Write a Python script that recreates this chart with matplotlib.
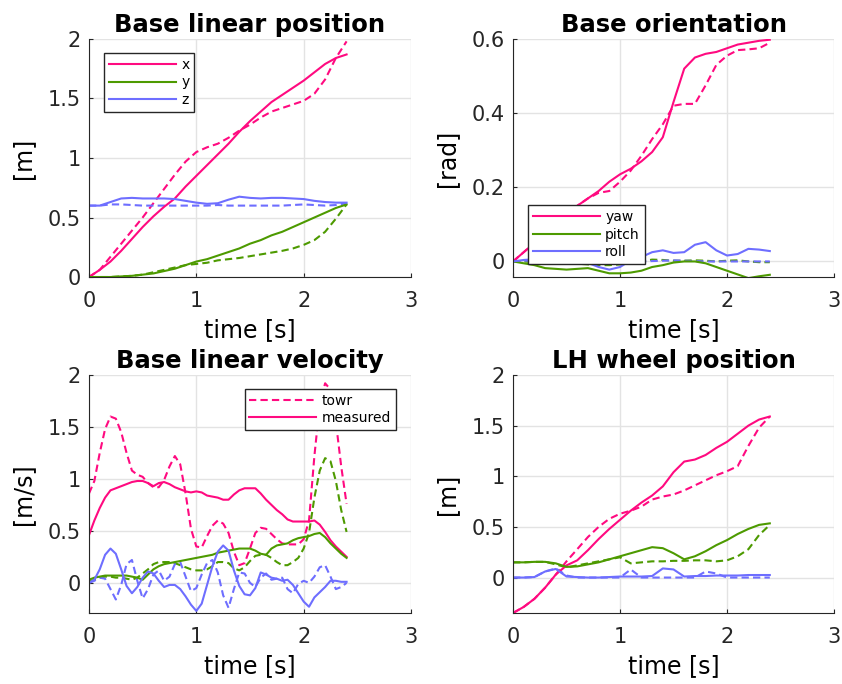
import numpy as np
from matplotlib import pyplot as plt

# colours used for x / y / z (and yaw / pitch / roll)
PINK = '#ff0a80'
GREEN = '#4d9a00'
BLUE = '#6e6eff'

# ---- base linear position [m], sampled every 0.1 s ----
t_pos = np.round(np.arange(0, 2.41, 0.1), 2)
pos_x_meas = [0, 0.06, 0.13, 0.22, 0.32, 0.42, 0.51, 0.59, 0.66, 0.76, 0.85, 0.94, 1.03,
              1.12, 1.22, 1.31, 1.39, 1.47, 1.53, 1.59, 1.65, 1.72, 1.79, 1.84, 1.87]
pos_x_towr = [0, 0.06, 0.17, 0.28, 0.39, 0.50, 0.62, 0.74, 0.86, 0.97, 1.05, 1.09, 1.12,
              1.17, 1.23, 1.28, 1.34, 1.39, 1.42, 1.45, 1.48, 1.54, 1.66, 1.84, 1.98]
pos_y_meas = [0, 0, 0, 0.005, 0.01, 0.02, 0.03, 0.05, 0.07, 0.10, 0.13, 0.15, 0.18,
              0.21, 0.24, 0.28, 0.31, 0.35, 0.38, 0.42, 0.46, 0.50, 0.54, 0.58, 0.61]
pos_y_towr = [0, 0, 0, 0.005, 0.01, 0.02, 0.04, 0.06, 0.08, 0.10, 0.11, 0.12, 0.14,
              0.15, 0.16, 0.175, 0.19, 0.205, 0.22, 0.24, 0.27, 0.31, 0.38, 0.49, 0.61]
pos_z_meas = [0.60, 0.60, 0.63, 0.66, 0.665, 0.66, 0.66, 0.66, 0.655, 0.64, 0.625, 0.615, 0.62,
              0.65, 0.675, 0.665, 0.66, 0.665, 0.665, 0.66, 0.655, 0.64, 0.63, 0.625, 0.625]
pos_z_towr = [0.60, 0.60, 0.61, 0.61, 0.605, 0.60, 0.60, 0.60, 0.60, 0.60, 0.60, 0.60, 0.605,
              0.60, 0.60, 0.60, 0.60, 0.60, 0.60, 0.605, 0.61, 0.605, 0.60, 0.605, 0.62]

# ---- base orientation [rad] ----
t_ori = t_pos
yaw_meas = [0, 0.025, 0.05, 0.075, 0.10, 0.125, 0.15, 0.17, 0.19, 0.215, 0.235, 0.25, 0.27,
            0.295, 0.335, 0.43, 0.52, 0.55, 0.56, 0.565, 0.575, 0.585, 0.59, 0.595, 0.598]
yaw_towr = [0, 0.025, 0.05, 0.075, 0.10, 0.125, 0.15, 0.17, 0.185, 0.19, 0.215, 0.245, 0.285,
            0.33, 0.37, 0.42, 0.425, 0.425, 0.475, 0.53, 0.555, 0.57, 0.572, 0.575, 0.59]
pitch_meas = [0, -0.005, -0.01, -0.018, -0.02, -0.022, -0.02, -0.018, -0.025, -0.032, -0.032,
              -0.03, -0.025, -0.015, -0.01, -0.003, 0.0, 0.0, -0.005, -0.015, -0.025, -0.035,
              -0.045, -0.04, -0.036]
pitch_towr = [0, 0, -0.002, -0.004, -0.005, -0.006, -0.006, -0.008, -0.01, -0.01, -0.008,
              -0.004, 0.0, 0.005, 0.004, 0.002, 0.002, 0.003, 0.002, 0.0, 0.002, 0.003, 0.0,
              -0.002, -0.002]
roll_meas = [0, 0.004, 0.006, 0.005, 0.003, 0.0, 0.0, -0.004, -0.015, -0.022, -0.015, 0.003,
             0.012, 0.025, 0.03, 0.023, 0.025, 0.045, 0.052, 0.03, 0.016, 0.02, 0.034, 0.032, 0.028]
roll_towr = [0, 0.002, 0.002, 0, 0, 0, 0, 0, 0, 0, 0, 0, 0, 0.001, 0.002, 0.003, 0.002,
             0.001, 0, 0, 0, 0, 0, 0, 0]

# ---- base linear velocity [m/s], sampled every 0.05 s ----
t_vel = np.round(np.arange(0, 2.41, 0.05), 2)
vel_x_towr = [0.86, 0.98, 1.25, 1.48, 1.60, 1.58, 1.45, 1.25, 1.08, 1.04, 1.02, 0.96, 0.92,
              0.92, 0.99, 1.12, 1.22, 1.14, 0.86, 0.52, 0.35, 0.34, 0.45, 0.55, 0.60, 0.57,
              0.48, 0.30, 0.17, 0.19, 0.33, 0.48, 0.53, 0.52, 0.47, 0.42, 0.38, 0.37, 0.37,
              0.37, 0.42, 0.60, 1.22, 1.72, 1.92, 1.86, 1.55, 1.12, 0.76]
vel_x_meas = [0.46, 0.60, 0.72, 0.82, 0.89, 0.91, 0.93, 0.95, 0.97, 0.98, 0.98, 0.96, 0.93,
              0.96, 0.97, 0.95, 0.92, 0.90, 0.88, 0.87, 0.88, 0.87, 0.84, 0.83, 0.82, 0.80,
              0.80, 0.85, 0.89, 0.91, 0.91, 0.91, 0.86, 0.80, 0.75, 0.70, 0.66, 0.61, 0.59,
              0.59, 0.59, 0.59, 0.60, 0.56, 0.49, 0.41, 0.35, 0.30, 0.25]
vel_y_towr = [0.01, 0.03, 0.05, 0.06, 0.06, 0.05, 0.05, 0.04, 0.03, 0.05, 0.09, 0.13, 0.18,
              0.20, 0.20, 0.20, 0.19, 0.17, 0.15, 0.13, 0.12, 0.12, 0.13, 0.16, 0.20, 0.20,
              0.19, 0.14, 0.12, 0.15, 0.21, 0.26, 0.27, 0.27, 0.24, 0.20, 0.17, 0.17, 0.20,
              0.24, 0.33, 0.48, 0.82, 1.08, 1.20, 1.17, 0.98, 0.70, 0.49]
vel_y_meas = [0.03, 0.05, 0.06, 0.07, 0.07, 0.07, 0.07, 0.07, 0.06, 0.05, 0.03, 0.08, 0.13,
              0.16, 0.18, 0.19, 0.20, 0.21, 0.22, 0.23, 0.24, 0.25, 0.26, 0.27, 0.29, 0.30,
              0.31, 0.32, 0.33, 0.33, 0.33, 0.31, 0.28, 0.27, 0.33, 0.36, 0.37, 0.38, 0.41,
              0.43, 0.44, 0.45, 0.47, 0.48, 0.44, 0.38, 0.33, 0.28, 0.24]
vel_z_towr = [0.00, 0.02, 0.05, 0.04, -0.06, -0.16, -0.02, 0.18, 0.22, 0.02, -0.15, -0.06,
              0.08, 0.12, 0.02, 0.06, 0.18, 0.20, 0.06, -0.08, -0.05, 0.08, 0.19, 0.22, 0.10,
              -0.12, -0.24, -0.06, 0.10, 0.09, 0.00, -0.04, 0.05, 0.09, 0.03, 0.04, 0.05,
              -0.06, -0.10, -0.01, 0.02, 0.00, 0.06, 0.15, 0.17, 0.06, -0.06, -0.04, 0.00]
vel_z_meas = [0.00, 0.03, 0.13, 0.27, 0.33, 0.28, 0.13, -0.03, -0.10, -0.04, 0.05, 0.11,
              0.09, 0.02, -0.04, -0.02, -0.02, -0.06, -0.13, -0.21, -0.27, -0.20, -0.02, 0.16,
              0.30, 0.36, 0.31, 0.12, -0.03, -0.11, -0.12, -0.05, 0.10, 0.08, 0.05, 0.04,
              0.02, 0.03, -0.02, -0.10, -0.18, -0.23, -0.14, -0.09, -0.04, 0.02, 0.02, 0.01, 0.01]

# ---- LH wheel position [m], sampled every 0.1 s ----
t_whl = t_pos
whl_x_meas = [-0.35, -0.29, -0.21, -0.10, 0.03, 0.12, 0.17, 0.27, 0.38, 0.48, 0.57, 0.66, 0.74,
              0.81, 0.90, 1.04, 1.145, 1.165, 1.21, 1.28, 1.34, 1.42, 1.50, 1.56, 1.59]
whl_x_towr = [-0.35, -0.29, -0.21, -0.10, 0.03, 0.16, 0.28, 0.40, 0.50, 0.58, 0.63, 0.66, 0.70,
              0.77, 0.80, 0.82, 0.86, 0.91, 0.96, 1.01, 1.05, 1.10, 1.30, 1.48, 1.59]
whl_y_meas = [0.15, 0.15, 0.155, 0.155, 0.14, 0.105, 0.11, 0.13, 0.15, 0.18, 0.21, 0.24, 0.27,
              0.30, 0.29, 0.24, 0.18, 0.21, 0.26, 0.32, 0.37, 0.43, 0.48, 0.52, 0.535]
whl_y_towr = [0.15, 0.15, 0.155, 0.155, 0.13, 0.10, 0.12, 0.14, 0.16, 0.18, 0.20, 0.14, 0.15,
              0.16, 0.16, 0.165, 0.165, 0.17, 0.17, 0.16, 0.17, 0.21, 0.28, 0.42, 0.52]
whl_z_meas = [0, 0, 0.005, 0.06, 0.085, 0.01, 0.005, 0, 0, 0.005, 0.01, 0.01, 0.01,
              0.015, 0.09, 0.08, 0.01, 0.015, 0.015, 0.02, 0.02, 0.02, 0.025, 0.025, 0.025]
whl_z_towr = [0, 0, 0.005, 0.06, 0.09, 0.02, 0, 0, 0, 0, 0, 0.08, 0, 0, 0, 0, 0, 0,
              0.06, 0.04, 0, 0, 0, 0, 0]

DASH = (0, (3.5, 2))
LW = 1.5

plt.rcParams['font.family'] = 'DejaVu Sans'
plt.rcParams['axes.edgecolor'] = '#262626'
plt.rcParams['xtick.color'] = '#262626'
plt.rcParams['ytick.color'] = '#262626'

fig = plt.figure(figsize=(8.42, 6.84), dpi=100)


def style_axes(ax, title, ylabel, ylim, yticks):
    ax.set_xlim(0, 3)
    ax.set_ylim(*ylim)
    ax.set_xticks([0, 1, 2, 3])
    ax.set_yticks(yticks)
    ax.set_yticklabels(['%g' % v for v in yticks])
    ax.grid(True, color='#e3e3e3', linewidth=1)
    ax.set_axisbelow(True)
    for side in ['top', 'right']:
        ax.spines[side].set_visible(False)
    ax.tick_params(direction='in', length=3, labelsize=15)
    ax.tick_params(axis='x', pad=10)
    ax.tick_params(axis='y', pad=6)
    ax.set_title(title, fontsize=17.5, fontweight='bold', pad=5)
    ax.set_xlabel('time [s]', fontsize=17, labelpad=5)
    ax.set_ylabel(ylabel, fontsize=17, labelpad=9)


def draw_legend(ax, handles, labels, loc, anchor):
    leg = ax.legend(handles, labels, loc=loc, bbox_to_anchor=anchor, borderaxespad=0,
                    fontsize=10, handlelength=4.8, handletextpad=0.4, labelspacing=0.25,
                    borderpad=0.35, fancybox=False, framealpha=1, edgecolor='#262626')
    leg.get_frame().set_linewidth(1)


# Base linear position
ax1 = fig.add_axes([0.1057, 0.595, 0.3824, 0.348])
ax1.plot(t_pos, pos_x_towr, color=PINK, lw=LW, ls=DASH)
ax1.plot(t_pos, pos_y_towr, color=GREEN, lw=LW, ls=DASH)
ax1.plot(t_pos, pos_z_towr, color=BLUE, lw=LW, ls=DASH)
lx, = ax1.plot(t_pos, pos_x_meas, color=PINK, lw=LW)
ly, = ax1.plot(t_pos, pos_y_meas, color=GREEN, lw=LW)
lz, = ax1.plot(t_pos, pos_z_meas, color=BLUE, lw=LW)
style_axes(ax1, 'Base linear position', '[m]', (0, 2), [0, 0.5, 1, 1.5, 2])
draw_legend(ax1, [lx, ly, lz], ['x', 'y', 'z'], 'upper left', (0.047, 0.941))

# Base orientation
ax2 = fig.add_axes([0.6093, 0.595, 0.3812, 0.348])
ax2.plot(t_ori, yaw_towr, color=PINK, lw=LW, ls=DASH)
ax2.plot(t_ori, pitch_towr, color=GREEN, lw=LW, ls=DASH)
ax2.plot(t_ori, roll_towr, color=BLUE, lw=LW, ls=DASH)
la, = ax2.plot(t_ori, yaw_meas, color=PINK, lw=LW)
lb, = ax2.plot(t_ori, pitch_meas, color=GREEN, lw=LW)
lc, = ax2.plot(t_ori, roll_meas, color=BLUE, lw=LW)
style_axes(ax2, 'Base orientation', '[rad]', (-0.042, 0.6), [0, 0.2, 0.4, 0.6])
draw_legend(ax2, [la, lb, lc], ['yaw', 'pitch', 'roll'], 'lower left', (0.047, 0.055))

# Base linear velocity
ax3 = fig.add_axes([0.1057, 0.1038, 0.3824, 0.348])
lt, = ax3.plot(t_vel, vel_x_towr, color=PINK, lw=LW, ls=DASH)
ax3.plot(t_vel, vel_y_towr, color=GREEN, lw=LW, ls=DASH)
ax3.plot(t_vel, vel_z_towr, color=BLUE, lw=LW, ls=DASH)
lm, = ax3.plot(t_vel, vel_x_meas, color=PINK, lw=LW)
ax3.plot(t_vel, vel_y_meas, color=GREEN, lw=LW)
ax3.plot(t_vel, vel_z_meas, color=BLUE, lw=LW)
style_axes(ax3, 'Base linear velocity', '[m/s]', (-0.29, 2), [0, 0.5, 1, 1.5, 2])
draw_legend(ax3, [lt, lm], ['towr', 'measured'], 'upper right', (0.953, 0.941))

# LH wheel position
ax4 = fig.add_axes([0.6093, 0.1038, 0.3812, 0.348])
ax4.plot(t_whl, whl_x_towr, color=PINK, lw=LW, ls=DASH)
ax4.plot(t_whl, whl_y_towr, color=GREEN, lw=LW, ls=DASH)
ax4.plot(t_whl, whl_z_towr, color=BLUE, lw=LW, ls=DASH)
ax4.plot(t_whl, whl_x_meas, color=PINK, lw=LW)
ax4.plot(t_whl, whl_y_meas, color=GREEN, lw=LW)
ax4.plot(t_whl, whl_z_meas, color=BLUE, lw=LW)
style_axes(ax4, 'LH wheel position', '[m]', (-0.35, 2), [0, 0.5, 1, 1.5, 2])

fig.savefig('out.png', dpi=100)
